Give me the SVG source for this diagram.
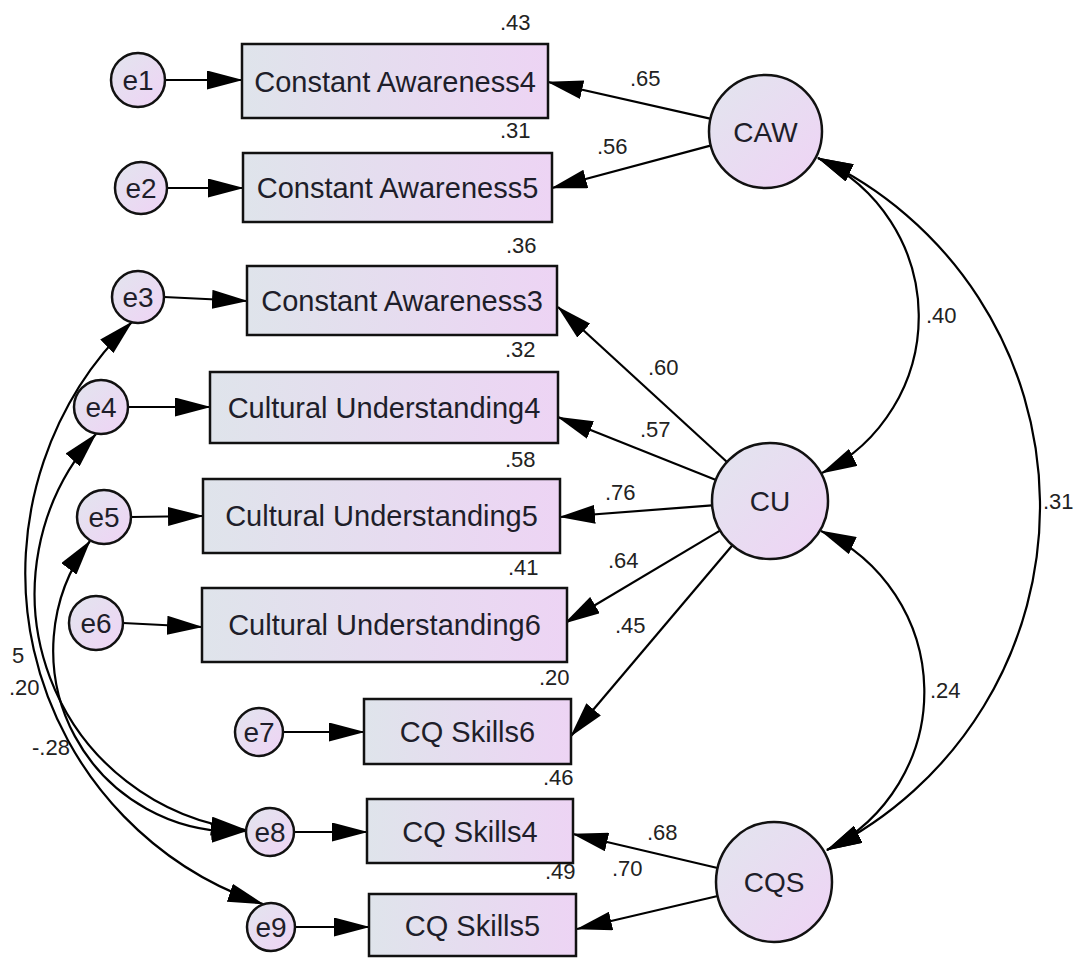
<svg xmlns="http://www.w3.org/2000/svg" width="1078" height="959" viewBox="0 0 1078 959">
  <defs>
    <linearGradient id="boxFill" x1="0" y1="0" x2="1" y2="0">
      <stop offset="0" stop-color="#dfe4eb"/>
      <stop offset="1" stop-color="#edd4f4"/>
    </linearGradient>
    <linearGradient id="ovalFill" x1="0" y1="0" x2="1" y2="1">
      <stop offset="0" stop-color="#e2e5ee"/>
      <stop offset="1" stop-color="#efd3f5"/>
    </linearGradient>
    <marker id="arrow" viewBox="0 0 36 19" refX="35" refY="9.5" markerWidth="36" markerHeight="19" markerUnits="userSpaceOnUse" orient="auto-start-reverse">
      <path d="M0,0 L36,9.5 L0,19 Z" fill="#000"/>
    </marker>
  </defs>
  <style>
    .obs { fill: url(#boxFill); stroke: #111; stroke-width: 2.5; }
    .oval { fill: url(#ovalFill); stroke: #111; stroke-width: 2.5; }
    .lbl { font-family: "Liberation Sans", Arial, sans-serif; font-size: 29px; fill: #1e1e2a; text-anchor: middle; }
    .elbl { font-size: 28px; }
    .num { font-family: "Liberation Sans", Arial, sans-serif; font-size: 22px; fill: #222; }
    .edge { fill: none; stroke: #000; stroke-width: 2.2; }
    .one { marker-end: url(#arrow); }
    .two { marker-start: url(#arrow); marker-end: url(#arrow); }
  </style>

  <rect width="1078" height="959" fill="#fff"/>

  <!-- paths: error terms, loadings, covariances -->
  <g id="connectors">
    <!-- error -> indicator -->
    <line class="edge one" x1="165" y1="80" x2="242" y2="80"/>
    <line class="edge one" x1="167" y1="188" x2="243" y2="188"/>
    <line class="edge one" x1="164" y1="297" x2="247" y2="301"/>
    <line class="edge one" x1="128" y1="407" x2="210" y2="407"/>
    <line class="edge one" x1="131" y1="517" x2="203" y2="516"/>
    <line class="edge one" x1="123" y1="623" x2="202" y2="627"/>
    <line class="edge one" x1="283" y1="732" x2="364" y2="732"/>
    <line class="edge one" x1="294" y1="832" x2="367" y2="832"/>
    <line class="edge one" x1="295" y1="927" x2="369" y2="927"/>
    <!-- factor loadings -->
    <line class="edge one" x1="710" y1="118.6" x2="548" y2="82"/>
    <line class="edge one" x1="710.4" y1="145.6" x2="552" y2="188"/>
    <line class="edge one" x1="727" y1="462" x2="558" y2="307"/>
    <line class="edge one" x1="716" y1="480" x2="558" y2="417"/>
    <line class="edge one" x1="712" y1="505.4" x2="560" y2="517"/>
    <line class="edge one" x1="720" y1="530.6" x2="565" y2="623"/>
    <line class="edge one" x1="732.6" y1="545" x2="571" y2="736"/>
    <line class="edge one" x1="717.6" y1="868" x2="573" y2="834"/>
    <line class="edge one" x1="717.7" y1="896" x2="577" y2="929"/>
    <!-- factor covariances -->
    <path class="edge two" d="M818 158 A175 175 0 0 1 822 473"/>
    <path class="edge two" d="M818 158 A384 384 0 0 1 827 850"/>
    <path class="edge two" d="M821 531 A177 177 0 0 1 827 850"/>
    <!-- error covariances -->
    <path class="edge two" d="M132 322 A349 349 0 0 0 263 904"/>
    <path class="edge two" d="M96 434 A238 238 0 0 0 246 830"/>
    <path class="edge two" d="M90 541 A181 181 0 0 0 246 831"/>
  </g>

  <!-- estimates -->
  <g id="estimates">
    <text class="num" x="500" y="30">.43</text>
    <text class="num" x="630" y="86">.65</text>
    <text class="num" x="500" y="138">.31</text>
    <text class="num" x="597" y="154">.56</text>
    <text class="num" x="506" y="253">.36</text>
    <text class="num" x="505" y="357">.32</text>
    <text class="num" x="648" y="375">.60</text>
    <text class="num" x="926" y="323">.40</text>
    <text class="num" x="640" y="437">.57</text>
    <text class="num" x="505" y="467">.58</text>
    <text class="num" x="605" y="500">.76</text>
    <text class="num" x="1043" y="509">.31</text>
    <text class="num" x="508" y="575">.41</text>
    <text class="num" x="608" y="568">.64</text>
    <text class="num" x="615" y="633">.45</text>
    <text class="num" x="539" y="685">.20</text>
    <text class="num" x="930" y="698">.24</text>
    <text class="num" x="543" y="785">.46</text>
    <text class="num" x="647" y="840">.68</text>
    <text class="num" x="545" y="879">.49</text>
    <text class="num" x="612" y="876">.70</text>
    <text class="num" x="12" y="663">5</text>
    <text class="num" x="9" y="695">.20</text>
    <text class="num" x="32" y="755">-.28</text>
  </g>

  <!-- observed indicators -->
  <g id="ca4"><rect class="obs" x="242" y="44" width="306" height="74"/><text class="lbl" x="395" y="91.5">Constant Awareness4</text></g>
  <g id="ca5"><rect class="obs" x="243" y="153" width="309" height="69"/><text class="lbl" x="397.5" y="198">Constant Awareness5</text></g>
  <g id="ca3"><rect class="obs" x="247" y="266" width="310" height="69"/><text class="lbl" x="402" y="311">Constant Awareness3</text></g>
  <g id="cu4"><rect class="obs" x="210" y="372" width="348" height="71"/><text class="lbl" x="384" y="418">Cultural Understanding4</text></g>
  <g id="cu5"><rect class="obs" x="203" y="479" width="357" height="74"/><text class="lbl" x="381.5" y="526">Cultural Understanding5</text></g>
  <g id="cu6"><rect class="obs" x="202" y="588" width="365" height="74"/><text class="lbl" x="384.5" y="635">Cultural Understanding6</text></g>
  <g id="cqs6"><rect class="obs" x="364" y="699" width="207" height="65"/><text class="lbl" x="467.5" y="742">CQ Skills6</text></g>
  <g id="cqs4"><rect class="obs" x="367" y="799" width="206" height="64"/><text class="lbl" x="470" y="841.5">CQ Skills4</text></g>
  <g id="cqs5"><rect class="obs" x="369" y="894" width="207" height="62"/><text class="lbl" x="472.5" y="936">CQ Skills5</text></g>

  <!-- error terms -->
  <g id="e1"><circle class="oval" cx="138" cy="80" r="27"/><text class="lbl elbl" x="138" y="90">e1</text></g>
  <g id="e2"><circle class="oval" cx="141" cy="188" r="26"/><text class="lbl elbl" x="141" y="198">e2</text></g>
  <g id="e3"><circle class="oval" cx="138" cy="297" r="26"/><text class="lbl elbl" x="138" y="307">e3</text></g>
  <g id="e4"><circle class="oval" cx="101" cy="407" r="27"/><text class="lbl elbl" x="101" y="417">e4</text></g>
  <g id="e5"><circle class="oval" cx="104" cy="517" r="27"/><text class="lbl elbl" x="104" y="527">e5</text></g>
  <g id="e6"><circle class="oval" cx="96" cy="623" r="27"/><text class="lbl elbl" x="96" y="633">e6</text></g>
  <g id="e7"><circle class="oval" cx="259" cy="732" r="24"/><text class="lbl elbl" x="259" y="742">e7</text></g>
  <g id="e8"><circle class="oval" cx="270" cy="832" r="24"/><text class="lbl elbl" x="270" y="842">e8</text></g>
  <g id="e9"><circle class="oval" cx="271" cy="927" r="24"/><text class="lbl elbl" x="271" y="937">e9</text></g>

  <!-- latent factors -->
  <g id="caw"><circle class="oval" cx="765.5" cy="131.5" r="56.5"/><text class="lbl elbl" x="765.5" y="141.5">CAW</text></g>
  <g id="cu"><circle class="oval" cx="770" cy="501" r="58"/><text class="lbl elbl" x="770" y="511">CU</text></g>
  <g id="cqs"><ellipse class="oval" cx="774" cy="882" rx="58" ry="60"/><text class="lbl elbl" x="774" y="892">CQS</text></g>
</svg>
